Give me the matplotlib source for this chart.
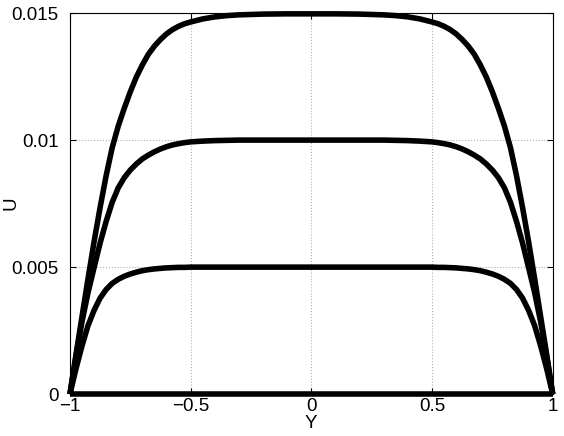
import numpy as np
import matplotlib
matplotlib.use('Agg')
import matplotlib.pyplot as plt

# values (left half; profiles are symmetric in Y)
y_half = [-1.0, -0.975, -0.95, -0.925, -0.9, -0.875, -0.85, -0.825, -0.8,
          -0.775, -0.75, -0.725, -0.7, -0.675, -0.65, -0.625, -0.6, -0.575,
          -0.55, -0.525, -0.5, -0.45, -0.4, -0.35, -0.3, -0.2, -0.1, 0.0]
u_top = [0.0, 0.00155, 0.00305, 0.00455, 0.00600, 0.00735, 0.00860, 0.00970,
         0.01055, 0.01125, 0.01190, 0.01248, 0.01296, 0.01338, 0.01370, 0.01396,
         0.01418, 0.01435, 0.01448, 0.01458, 0.01465, 0.01477, 0.01485, 0.01490,
         0.01493, 0.01496, 0.01497, 0.01497]
u_mid = [0.0, 0.00148, 0.00285, 0.00400, 0.00498, 0.00595, 0.00680, 0.00755,
         0.00812, 0.00852, 0.00882, 0.00906, 0.00926, 0.00941, 0.00954, 0.00965,
         0.00974, 0.00981, 0.00986, 0.00990, 0.00993, 0.00996, 0.00998, 0.00999,
         0.0100, 0.0100, 0.0100, 0.0100]
u_low = [0.0, 0.00100, 0.00190, 0.00270, 0.00330, 0.00378, 0.00412, 0.00436,
         0.00452, 0.00464, 0.00473, 0.00480, 0.00486, 0.00490, 0.00493, 0.00495,
         0.00497, 0.00498, 0.00499, 0.00499, 0.0050, 0.0050, 0.0050, 0.0050,
         0.0050, 0.0050, 0.0050, 0.0050]
u_zero = [0.0] * len(y_half)

xticks = [-1, -0.5, 0, 0.5, 1]
xtick_labels = ['\u22121', '\u22120.5', '0', '0.5', '1']
yticks = [0, 0.005, 0.01, 0.015]
ytick_labels = ['0', '0.005', '0.01', '0.015']


def mirror(y, u):
    # full profile from the left half
    yy = list(y) + [-v for v in y[-2::-1]]
    uu = list(u) + list(u[-2::-1])
    return yy, uu


plt.rcParams['font.family'] = ['Liberation Sans', 'DejaVu Sans']

fig = plt.figure(figsize=(5.64, 4.36), dpi=100)
ax = fig.add_axes([0.124, 0.096, 0.856, 0.874])

for u in (u_zero, u_low, u_mid, u_top):
    yy, uu = mirror(y_half, u)
    ax.plot(yy, uu, color='black', linewidth=4.0, clip_on=False,
            solid_joinstyle='round', solid_capstyle='butt', zorder=3)

ax.set_xlim(-1, 1)
ax.set_ylim(0, 0.015)
ax.set_xticks(xticks)
ax.set_xticklabels(xtick_labels)
ax.set_yticks(yticks)
ax.set_yticklabels(ytick_labels)

ax.grid(True, color='#b0b0b0', linestyle=':', linewidth=0.8)
ax.tick_params(direction='in', length=4, width=0.8, top=True, right=True,
               labelsize=13.5, colors='black')
ax.tick_params(axis='x', pad=3)
ax.tick_params(axis='y', pad=8)
for s in ax.spines.values():
    s.set_linewidth(0.8)

ax.set_xlabel('Y', fontsize=13.5, labelpad=0)
ax.set_ylabel('U', fontsize=13.5)
ax.yaxis.set_label_coords(-0.105, 0.5)

fig.savefig('out.png', dpi=100)
